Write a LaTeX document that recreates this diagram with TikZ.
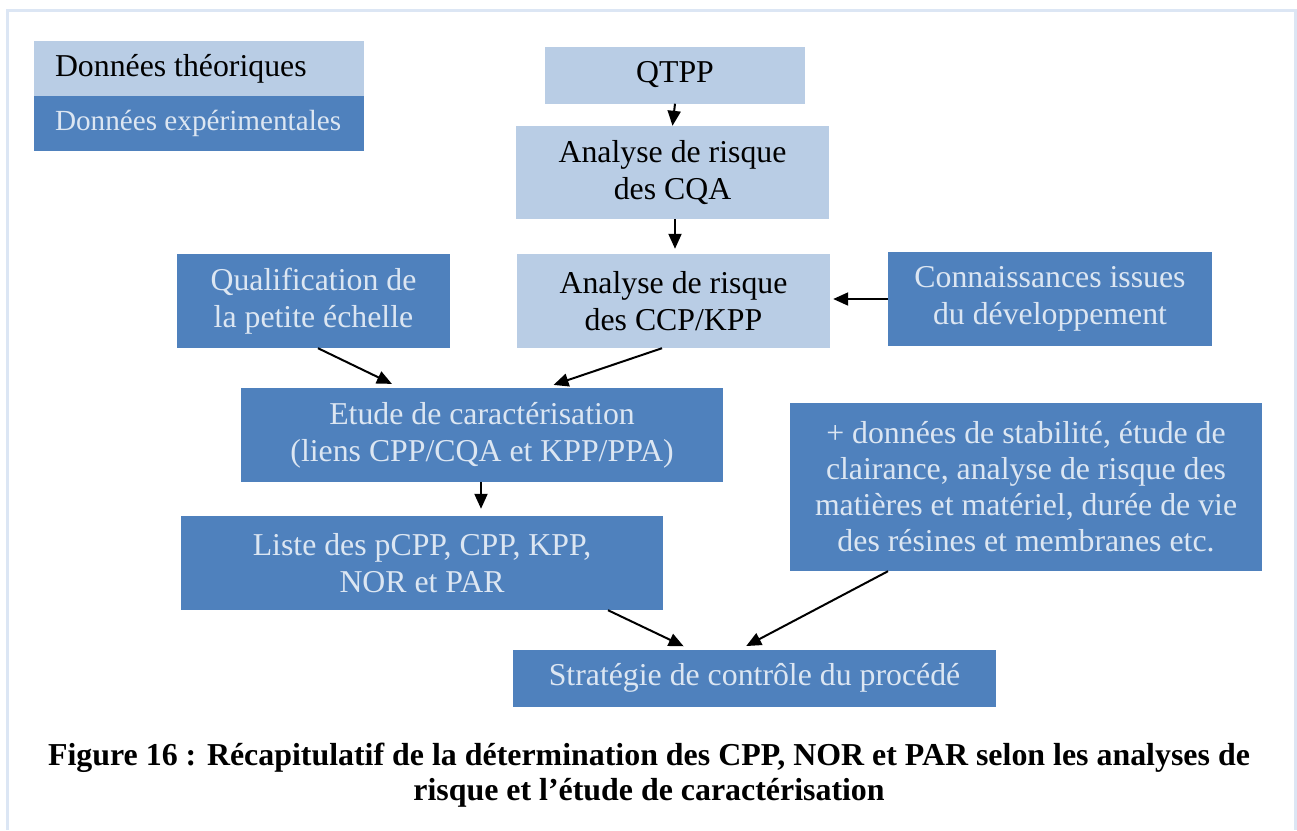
\documentclass[tikz,border=0pt]{standalone}
\usepackage{fontspec}
\setmainfont{Liberation Serif}
\usetikzlibrary{arrows.meta}
\definecolor{lightb}{HTML}{B9CDE5}
\definecolor{darkb}{HTML}{4F81BD}
\definecolor{paleTxt}{HTML}{DCE6F2}
\definecolor{frameC}{HTML}{DCE6F4}
\tikzset{
  boxbase/.style={rectangle, inner sep=0pt, align=center, font=\fontsize{31.8}{37}\selectfont},
  lightbox/.style={boxbase, fill=lightb, text=black},
  darkbox/.style={boxbase, fill=darkb, text=paleTxt},
  legendbox/.style={minimum width=330pt},
  arr/.style={-{Triangle[length=15pt,width=13pt]}, line width=2pt, black},
}
\newcommand{\legtext}[1]{\makebox[330pt][l]{\hspace*{21pt}#1}}
\begin{document}
\begin{tikzpicture}[x=1pt,y=-1pt]
\useasboundingbox (0,0) rectangle (1297,830);
\draw[frameC, line width=2.5pt] (7.5,830) -- (7.5,10.5) -- (1295.5,10.5) -- (1295.5,830);
% legend
\node[lightbox, legendbox, minimum height=56pt] (lt) at (199,69) {\legtext{Données théoriques}};
\node[darkbox, legendbox, minimum height=55pt, font=\fontsize{29.2}{34}\selectfont] (le) at (199,123.5) {\legtext{Données expérimentales}};
% main
\node[lightbox, minimum width=260pt, minimum height=57pt] (qtpp) at (675,75) {QTPP};
\node[lightbox, minimum width=313pt, minimum height=93pt] (cqa) at (672.5,172.5) {Analyse de risque\\des CQA};
\node[lightbox, minimum width=313pt, minimum height=94pt] (ccp) at (673.5,301) {Analyse de risque\\des CCP/KPP};
\node[darkbox, minimum width=273pt, minimum height=94pt] (qual) at (313.5,301) {Qualification de\\la petite échelle};
\node[darkbox, minimum width=324pt, minimum height=94pt] (conn) at (1050,299) {Connaissances issues\\du développement};
\node[darkbox, minimum width=482pt, minimum height=94pt] (etude) at (482,435) {Etude de caractérisation\\(liens CPP/CQA et KPP/PPA)};
\node[darkbox, minimum width=482pt, minimum height=94pt] (liste) at (422,563) {Liste des pCPP, CPP, KPP,\\NOR et PAR};
\node[darkbox, minimum width=472pt, minimum height=168pt, font=\fontsize{31.8}{36}\selectfont] (plus) at (1026,487) {+ données de stabilité, étude de\\clairance, analyse de risque des\\matières et matériel, durée de vie\\des résines et membranes etc.};
\node[darkbox, minimum width=483pt, minimum height=57pt] (strat) at (754.5,678) {Stratégie de contrôle du procédé};
% arrows
\draw[arr] (qtpp.south) -- (cqa.north);
\draw[arr, shorten >=5pt] (cqa.south -| qtpp.south) -- (ccp.north -| qtpp.south);
\draw[arr, shorten >=3pt] (conn.west) -- (ccp.east |- conn.west);
\draw[arr, shorten >=9pt] ([xshift=4.5pt]qual.south) -- ([xshift=-82pt]etude.north);
\draw[arr, shorten >=9pt] ([xshift=-11.5pt]ccp.south) -- ([xshift=63pt]etude.north);
\draw[arr, shorten >=7pt] ([xshift=-1pt]etude.south) -- ([xshift=59pt]liste.north);
\draw[arr, shorten >=7pt] ([xshift=186pt]liste.south) -- ([xshift=-64.5pt]strat.north);
\draw[arr, shorten >=7pt] ([xshift=-138pt]plus.south) -- ([xshift=-14.5pt]strat.north);
% caption
\node[inner sep=0pt, align=center, font=\bfseries\fontsize{31.9}{35}\selectfont] (cap) at (649,775) {Figure 16 : Récapitulatif de la détermination des CPP, NOR et PAR selon les analyses de\\risque et l’étude de caractérisation};
\end{tikzpicture}
\end{document}
